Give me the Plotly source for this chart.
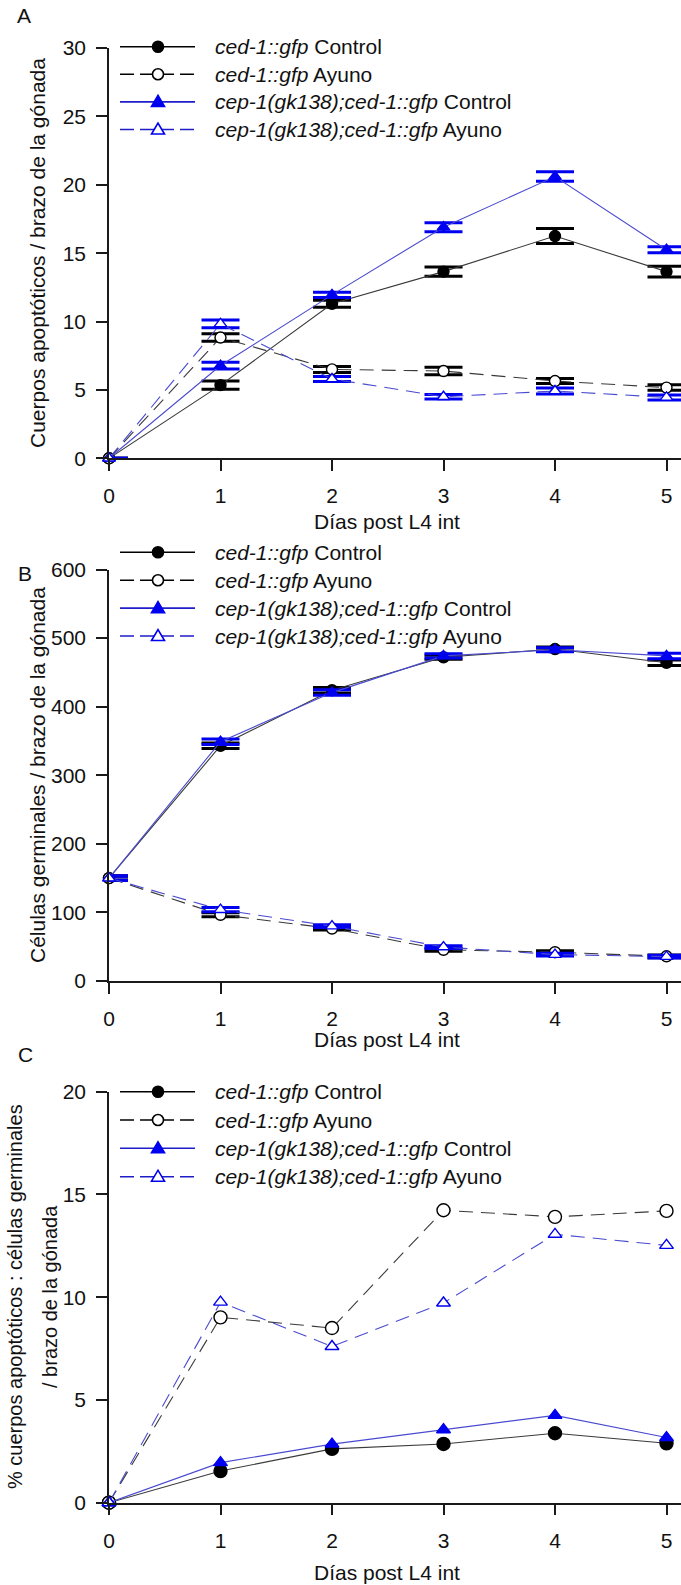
import plotly.graph_objects as go

W, H = 681, 1585
FONT = "Liberation Sans, Arial, sans-serif"

# ---------------- data ----------------
days = [0, 1, 2, 3, 4, 5]
series_names = ["ced_ctrl", "ced_ayuno", "cep_ctrl", "cep_ayuno"]

# Panel A: apoptotic corpses / gonad arm
a_ced_ctrl = [0, 5.35, 11.3, 13.65, 16.25, 13.65]
a_ced_ctrl_err = [0, 0.3, 0.25, 0.33, 0.55, 0.4]
a_ced_ayuno = [0, 8.83, 6.5, 6.38, 5.65, 5.17]
a_ced_ayuno_err = [0, 0.27, 0.22, 0.27, 0.18, 0.2]
a_cep_ctrl = [0, 6.78, 11.95, 16.9, 20.6, 15.25]
a_cep_ctrl_err = [0, 0.25, 0.2, 0.33, 0.35, 0.22]
a_cep_ayuno = [0, 9.83, 5.8, 4.5, 4.92, 4.45]
a_cep_ayuno_err = [0, 0.28, 0.18, 0.17, 0.22, 0.18]

# Panel B: germ cells / gonad arm
b_ced_ctrl = [150, 343, 424, 472, 484, 464]
b_ced_ctrl_err = [3, 4, 4, 3, 3, 4]
b_ced_ayuno = [150, 96.5, 76.5, 45.5, 42, 36]
b_ced_ayuno_err = [3, 3, 2, 2, 2, 2]
b_cep_ctrl = [150, 349, 420.5, 474, 483, 474]
b_cep_ctrl_err = [3, 4, 4, 3, 3, 4]
b_cep_ayuno = [150, 104, 80, 49.5, 38.5, 35.5]
b_cep_ayuno_err = [3, 3, 2, 2, 2, 2]

# Panel C: % apoptotic corpses : germ cells
c_ced_ctrl = [0, 1.54, 2.62, 2.86, 3.38, 2.89]
c_ced_ayuno = [0, 9.02, 8.5, 14.23, 13.91, 14.2]
c_cep_ctrl = [0, 1.95, 2.85, 3.55, 4.25, 3.17]
c_cep_ayuno = [0, 9.76, 7.6, 9.72, 13.06, 12.52]

a_yticks = [0, 5, 10, 15, 20, 25, 30]
b_yticks = [0, 100, 200, 300, 400, 500, 600]
c_yticks = [0, 5, 10, 15, 20]

legend_labels = [("ced-1::gfp", "Control"), ("ced-1::gfp", "Ayuno"),
                 ("cep-1(gk138);ced-1::gfp", "Control"), ("cep-1(gk138);ced-1::gfp", "Ayuno")]

# ---------------- styles ----------------
BLACK = "#000000"
BLUE = "#0000f0"
LINE_BLACK = "#3a3a3a"
LINE_BLUE = "#4a4ad0"
DASH = "14px,8px"

styles = {
    "ced_ctrl": dict(color=BLACK, line=LINE_BLACK, dash="solid", symbol="circle", filled=True),
    "ced_ayuno": dict(color=BLACK, line=LINE_BLACK, dash=DASH, symbol="circle-open", filled=False),
    "cep_ctrl": dict(color=BLUE, line=LINE_BLUE, dash="solid", symbol="triangle-up", filled=True),
    "cep_ayuno": dict(color=BLUE, line=LINE_BLUE, dash=DASH, symbol="triangle-up-open", filled=False),
}


def px_x(p):
    return p / W


def px_y(p):
    return 1 - p / H


fig = go.Figure()

X_LEFT = 109.0
X_UNIT = 111.5
x_max = (W - X_LEFT) / X_UNIT

panels = [
    dict(key="", top=48.0, bottom=458.3, yrange=[0, 30], yticks=a_yticks,
         data=dict(ced_ctrl=(a_ced_ctrl, a_ced_ctrl_err), ced_ayuno=(a_ced_ayuno, a_ced_ayuno_err),
                   cep_ctrl=(a_cep_ctrl, a_cep_ctrl_err), cep_ayuno=(a_cep_ayuno, a_cep_ayuno_err)),
         csize=11, tsize=11, legend_rows=[46.7, 74.3, 101.9, 129.5]),
    dict(key="2", top=569.5, bottom=981.0, yrange=[0, 600], yticks=b_yticks,
         data=dict(ced_ctrl=(b_ced_ctrl, b_ced_ctrl_err), ced_ayuno=(b_ced_ayuno, b_ced_ayuno_err),
                   cep_ctrl=(b_cep_ctrl, b_cep_ctrl_err), cep_ayuno=(b_cep_ayuno, b_cep_ayuno_err)),
         csize=11, tsize=11, legend_rows=[552.3, 580.2, 608.1, 636.0]),
    dict(key="3", top=1091.7, bottom=1502.7, yrange=[0, 20], yticks=c_yticks,
         data=dict(ced_ctrl=(c_ced_ctrl, None), ced_ayuno=(c_ced_ayuno, None),
                   cep_ctrl=(c_cep_ctrl, None), cep_ayuno=(c_cep_ayuno, None)),
         csize=13, tsize=12, legend_rows=[1091.7, 1120.0, 1148.3, 1176.7]),
]

axis_common = dict(showline=True, linecolor="#1a1a1a", linewidth=1.5, ticks="outside", ticklen=11,
                   tickwidth=1.5, tickcolor="#1a1a1a", showgrid=False, zeroline=False,
                   tickfont=dict(family=FONT, size=21, color="#111111"), automargin=False)

layout_axes = {}
for p in panels:
    k = p["key"]
    xa = "x" + k
    ya = "y" + k
    for name in series_names:
        st = styles[name]
        vals, err = p["data"][name]
        size = p["csize"] if "circle" in st["symbol"] else p["tsize"]
        tr = go.Scatter(
            x=days, y=vals, xaxis=xa, yaxis=ya, mode="lines+markers", showlegend=False,
            cliponaxis=False,
            line=dict(color=st["line"], width=1.1, dash=st["dash"]),
            marker=dict(symbol=st["symbol"], size=size, color=st["color"],
                        line=dict(color=st["color"], width=1.4)),
        )
        if not st["filled"]:
            tr.marker.symbol = st["symbol"].replace("-open", "")
            tr.marker.color = "white"
        if err is not None:
            tr.error_y = dict(type="data", array=err, visible=True, thickness=3, width=19,
                              color=st["color"])
        fig.add_trace(tr)

    layout_axes["xaxis" + k] = dict(axis_common, domain=[px_x(X_LEFT), 1], range=[0, x_max],
                                    tickvals=days, anchor=ya, ticklabelstandoff=7)
    layout_axes["yaxis" + k] = dict(axis_common, domain=[px_y(p["bottom"]), px_y(p["top"])],
                                    range=p["yrange"], tickvals=p["yticks"], anchor=xa,
                                    ticklabelstandoff=6)

fig.update_layout(**layout_axes)

# ---------------- legends (custom, SigmaPlot style) ----------------
shapes = []
annotations = []
LEG_X0, LEG_X1, LEG_MX, LEG_TX = 120, 195, 158, 213
for p in panels:
    for i, name in enumerate(series_names):
        st = styles[name]
        yy = p["legend_rows"][i]
        lc = BLACK if st["color"] == BLACK else "#1e1ec8"
        shapes.append(dict(type="line", xref="paper", yref="paper", x0=px_x(LEG_X0), x1=px_x(LEG_X1),
                           y0=px_y(yy), y1=px_y(yy),
                           line=dict(color=lc, width=1.6, dash="solid" if st["dash"] == "solid" else "14px,6px")))
        fill = st["color"] if st["filled"] else "white"
        if "circle" in st["symbol"]:
            r = 5.5
            shapes.append(dict(type="circle", xref="paper", yref="paper",
                               x0=px_x(LEG_MX - r), x1=px_x(LEG_MX + r),
                               y0=px_y(yy + r), y1=px_y(yy - r), fillcolor=fill,
                               line=dict(color=st["color"], width=1.6)))
        else:
            hw, up, dn = 6.5, 6.5, 4.5
            path = "M {:.5f},{:.5f} L {:.5f},{:.5f} L {:.5f},{:.5f} Z".format(
                px_x(LEG_MX - hw), px_y(yy + dn), px_x(LEG_MX + hw), px_y(yy + dn), px_x(LEG_MX), px_y(yy - up))
            shapes.append(dict(type="path", xref="paper", yref="paper", path=path, fillcolor=fill,
                               line=dict(color=st["color"], width=1.6)))
        gene, cond = legend_labels[i]
        annotations.append(dict(xref="paper", yref="paper", x=px_x(LEG_TX), y=px_y(yy), xanchor="left",
                                yanchor="middle", showarrow=False,
                                text="<i>{}</i> {}".format(gene, cond),
                                font=dict(family=FONT, size=21, color="#111111")))

# panel letters
for letter, (lx, ly) in zip(["A", "B", "C"], [(24, 15), (25, 573), (25, 1054)]):
    annotations.append(dict(xref="paper", yref="paper", x=px_x(lx), y=px_y(ly), xanchor="center",
                            yanchor="middle", showarrow=False, text=letter,
                            font=dict(family=FONT, size=21, color="#111111")))

# x titles
for ty in [521.0, 1039.3, 1572.7]:
    annotations.append(dict(xref="paper", yref="paper", x=px_x(387), y=px_y(ty), xanchor="center",
                            yanchor="middle", showarrow=False, text="Días post L4 int",
                            font=dict(family=FONT, size=21, color="#111111")))

# y titles
ytitles = [("Cuerpos apoptóticos / brazo de la gónada", 37, 253, 21),
           ("Células germinales / brazo de la gónada", 37, 775, 21),
           ("% cuerpos apoptóticos : células germinales", 15, 1297, 20),
           ("/ brazo de la gónada", 50, 1297, 20)]
for txt, tx, ty, fs in ytitles:
    annotations.append(dict(xref="paper", yref="paper", x=px_x(tx), y=px_y(ty), xanchor="center",
                            yanchor="middle", showarrow=False, text=txt, textangle=-90,
                            font=dict(family=FONT, size=fs, color="#111111")))

fig.update_layout(width=W, height=H, margin=dict(l=0, r=0, t=0, b=0), autosize=False,
                  paper_bgcolor="white", plot_bgcolor="white", shapes=shapes, annotations=annotations,
                  font=dict(family=FONT))

fig.write_html("out.html")
